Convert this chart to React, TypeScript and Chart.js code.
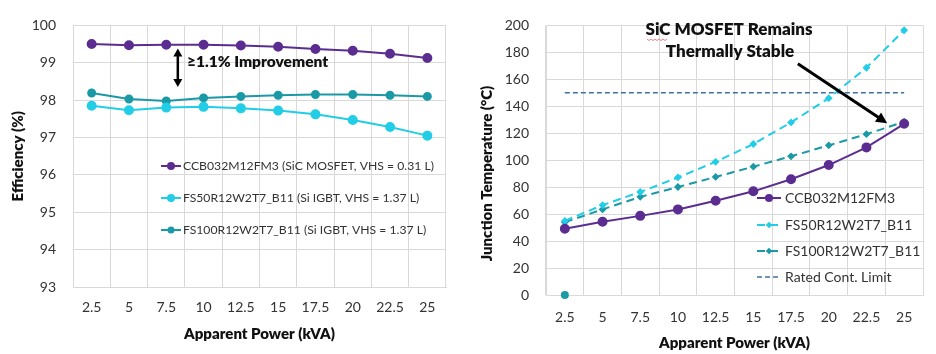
import React, { useEffect, useRef } from 'react';
import { Chart, registerables } from 'chart.js';
Chart.register(...registerables);

// ---------- data ----------
const categories = ['2.5', '5', '7.5', '10', '12.5', '15', '17.5', '20', '22.5', '25'];

const effSiC = [99.5, 99.47, 99.48, 99.48, 99.46, 99.43, 99.37, 99.32, 99.24, 99.13];
const effFS50 = [97.85, 97.73, 97.8, 97.82, 97.78, 97.72, 97.62, 97.47, 97.28, 97.05];
const effFS100 = [98.19, 98.03, 97.98, 98.06, 98.1, 98.13, 98.15, 98.15, 98.13, 98.1];

const tempSiC = [49.2, 54.3, 58.7, 63.5, 69.9, 76.9, 85.9, 96.4, 109.5, 127];
const tempFS50 = [55, 66.7, 76.4, 87.2, 98.8, 112, 128, 146, 168.6, 196.4];
const tempFS100 = [54, 63.5, 72.8, 80.1, 87.6, 95.2, 102.9, 111, 119.3, 128.5];
const ratedLimit = [150, 150, 150, 150, 150, 150, 150, 150, 150, 150];
const strayPoint = [0, null, null, null, null, null, null, null, null, null];

const effLabels = [
  'CCB032M12FM3 (SiC MOSFET, VHS = 0.31 L)',
  'FS50R12W2T7_B11 (Si IGBT, VHS = 1.37 L)',
  'FS100R12W2T7_B11 (Si IGBT, VHS = 1.37 L)',
];
const tempLabels = ['CCB032M12FM3', 'FS50R12W2T7_B11', 'FS100R12W2T7_B11', 'Rated Cont. Limit'];

const effTicks = { min: 93, max: 100, step: 1 };
const tempTicks = { min: 0, max: 200, step: 20 };

// ---------- style ----------
const FONT = 'Lato, "Noto Sans", sans-serif';
const TEXT = '#333333';
const GRID = '#d9d9d9';
const PURPLE = '#5c2d91';
const CYAN = '#22cde8';
const TEAL = '#1a9aa6';
const LIMIT = '#41709e';

function drawMarker(ctx: CanvasRenderingContext2D, style: string, x: number, y: number, r: number, color: string) {
  ctx.save();
  ctx.fillStyle = color;
  ctx.beginPath();
  if (style === 'rectRot') {
    ctx.moveTo(x, y - r * 1.3);
    ctx.lineTo(x + r * 1.3, y);
    ctx.lineTo(x, y + r * 1.3);
    ctx.lineTo(x - r * 1.3, y);
    ctx.closePath();
  } else {
    ctx.arc(x, y, r, 0, Math.PI * 2);
  }
  ctx.fill();
  ctx.restore();
}

function drawLegend(chart: any, items: { ds: number; y: number }[], x: number, lineLen: number, gap: number, font: string) {
  const ctx = chart.ctx as CanvasRenderingContext2D;
  ctx.save();
  ctx.font = font;
  ctx.textBaseline = 'middle';
  ctx.textAlign = 'left';
  items.forEach((it) => {
    const ds: any = chart.data.datasets[it.ds];
    ctx.strokeStyle = ds.borderColor;
    ctx.lineWidth = ds.borderWidth;
    ctx.setLineDash(ds.borderDash || []);
    ctx.beginPath();
    ctx.moveTo(x, it.y);
    ctx.lineTo(x + lineLen, it.y);
    ctx.stroke();
    ctx.setLineDash([]);
    if (ds.pointRadius > 0) drawMarker(ctx, ds.pointStyle, x + lineLen / 2, it.y, ds.pointRadius, ds.pointBackgroundColor);
    ctx.fillStyle = TEXT;
    ctx.fillText(ds.label, x + lineLen + gap, it.y + 0.5);
  });
  ctx.restore();
}

function arrowHead(ctx: CanvasRenderingContext2D, x1: number, y1: number, x2: number, y2: number, len: number, w: number) {
  const a = Math.atan2(y2 - y1, x2 - x1);
  ctx.beginPath();
  ctx.moveTo(x2, y2);
  ctx.lineTo(x2 - len * Math.cos(a) + (w / 2) * Math.sin(a), y2 - len * Math.sin(a) - (w / 2) * Math.cos(a));
  ctx.lineTo(x2 - len * Math.cos(a) - (w / 2) * Math.sin(a), y2 - len * Math.sin(a) + (w / 2) * Math.cos(a));
  ctx.closePath();
  ctx.fill();
}

function baseScales(yMin: number, yMax: number, step: number, yWidth: number, xHeight: number, xTitlePad: number, xTickPad: number, yTitle: string | null) {
  return {
    x: {
      type: 'category' as const,
      offset: true,
      grid: { offset: true, color: GRID, drawTicks: false, lineWidth: 1 },
      border: { color: GRID },
      ticks: { color: TEXT, font: { family: FONT, size: 14 }, padding: xTickPad, maxRotation: 0 },
      title: {
        display: true,
        text: 'Apparent Power (kVA)',
        color: '#111',
        font: { family: FONT, size: 15, weight: 800 as any },
        padding: { top: 0, bottom: xTitlePad },
      },
      afterFit: (s: any) => {
        s.height = xHeight;
      },
    },
    y: {
      min: yMin,
      max: yMax,
      grid: { color: GRID, drawTicks: false, lineWidth: 1 },
      border: { color: GRID },
      ticks: { stepSize: step, color: TEXT, font: { family: FONT, size: 14 }, padding: 17 },
      title: {
        display: !!yTitle,
        text: yTitle || '',
        color: '#111',
        font: { family: FONT, size: 15, weight: 800 as any },
        padding: { top: 9, bottom: 0 },
      },
      afterFit: (s: any) => {
        s.width = yWidth;
      },
    },
  };
}

function EfficiencyChart() {
  const ref = useRef<HTMLCanvasElement>(null);
  useEffect(() => {
    const overlay = {
      id: 'effOverlay',
      afterDraw(chart: any) {
        const ctx = chart.ctx as CanvasRenderingContext2D;
        const xs = chart.scales.x;
        const ys = chart.scales.y;
        drawLegend(chart, [{ ds: 0, y: 166 }, { ds: 1, y: 198 }, { ds: 2, y: 230 }], 161, 20, 2, `12.2px ${FONT}`);
        // double arrow
        const ax = xs.getPixelForValue(2.31);
        const yTop = ys.getPixelForValue(99.38);
        const yBot = ys.getPixelForValue(98.35);
        ctx.save();
        ctx.strokeStyle = '#000';
        ctx.fillStyle = '#000';
        ctx.lineWidth = 2.5;
        ctx.beginPath();
        ctx.moveTo(ax, yTop + 6);
        ctx.lineTo(ax, yBot - 6);
        ctx.stroke();
        arrowHead(ctx, ax, yBot, ax, yTop, 8, 9);
        arrowHead(ctx, ax, yTop, ax, yBot, 8, 9);
        ctx.font = `800 15.5px ${FONT}`;
        ctx.textBaseline = 'middle';
        ctx.textAlign = 'left';
        ctx.fillStyle = '#111';
        ctx.fillText('≥1.1% Improvement', 187, 62);
        ctx.restore();
      },
    };
    const chart = new Chart(ref.current!, {
      type: 'line',
      data: {
        labels: categories,
        datasets: [
          { label: effLabels[0], data: effSiC, borderColor: PURPLE, backgroundColor: PURPLE, pointBackgroundColor: PURPLE, pointBorderColor: PURPLE, borderWidth: 2, pointRadius: 4, pointStyle: 'circle' },
          { label: effLabels[1], data: effFS50, borderColor: CYAN, backgroundColor: CYAN, pointBackgroundColor: CYAN, pointBorderColor: CYAN, borderWidth: 2, pointRadius: 4, pointStyle: 'circle' },
          { label: effLabels[2], data: effFS100, borderColor: TEAL, backgroundColor: TEAL, pointBackgroundColor: TEAL, pointBorderColor: TEAL, borderWidth: 2, pointRadius: 3.5, pointStyle: 'circle' },
        ],
      },
      options: {
        responsive: false,
        animation: false,
        layout: { padding: { top: 18, right: 22, bottom: 0, left: 0 } },
        plugins: { legend: { display: false }, tooltip: { enabled: false } },
        scales: baseScales(effTicks.min, effTicks.max, effTicks.step, 73, 67, 11, 12, 'Efficiency (%)') as any,
      },
      plugins: [overlay],
    });
    return () => chart.destroy();
  }, []);
  return <canvas ref={ref} width={468} height={354} style={{ display: 'block' }} />;
}

function TemperatureChart() {
  const ref = useRef<HTMLCanvasElement>(null);
  useEffect(() => {
    const overlay = {
      id: 'tempOverlay',
      afterDraw(chart: any) {
        const ctx = chart.ctx as CanvasRenderingContext2D;
        const xs = chart.scales.x;
        const ys = chart.scales.y;
        drawLegend(chart, [{ ds: 0, y: 198 }, { ds: 1, y: 225 }, { ds: 2, y: 251 }, { ds: 3, y: 277 }], 289, 24, 4, `14px ${FONT}`);
        ctx.save();
        // y title
        ctx.translate(19, 173.5);
        ctx.rotate(-Math.PI / 2);
        ctx.font = `800 15px ${FONT}`;
        ctx.textAlign = 'center';
        ctx.textBaseline = 'middle';
        ctx.fillStyle = '#111';
        ctx.fillText('Junction Temperature (°C)', 0, 0);
        ctx.restore();

        ctx.save();
        ctx.font = `800 17px ${FONT}`;
        ctx.textAlign = 'center';
        ctx.textBaseline = 'middle';
        ctx.fillStyle = '#111';
        ctx.fillText('SiC MOSFET Remains', 261, 30);
        ctx.fillText('Thermally Stable', 262, 52);
        // spell-check squiggle under "SiC"
        ctx.strokeStyle = '#e8837f';
        ctx.lineWidth = 1;
        ctx.beginPath();
        for (let i = 0; i <= 10; i++) {
          const px = 179 + i * 2;
          const py = 39 + (i % 2 === 0 ? 0 : 1.5);
          if (i === 0) ctx.moveTo(px, py);
          else ctx.lineTo(px, py);
        }
        ctx.stroke();
        // arrow
        const x1 = xs.getPixelForValue(6.18);
        const y1 = ys.getPixelForValue(171.5);
        const x2 = xs.getPixelForValue(8.55);
        const y2 = ys.getPixelForValue(127.5);
        const a = Math.atan2(y2 - y1, x2 - x1);
        ctx.strokeStyle = '#000';
        ctx.fillStyle = '#000';
        ctx.lineWidth = 3;
        ctx.beginPath();
        ctx.moveTo(x1, y1);
        ctx.lineTo(x2 - 8 * Math.cos(a), y2 - 8 * Math.sin(a));
        ctx.stroke();
        arrowHead(ctx, x1, y1, x2, y2, 11, 11);
        ctx.restore();
      },
    };
    const chart = new Chart(ref.current!, {
      type: 'line',
      data: {
        labels: categories,
        datasets: [
          { label: tempLabels[0], data: tempSiC, borderColor: PURPLE, backgroundColor: PURPLE, pointBackgroundColor: PURPLE, pointBorderColor: PURPLE, borderWidth: 2, pointRadius: 4, pointStyle: 'circle' },
          { label: tempLabels[1], data: tempFS50, borderColor: CYAN, backgroundColor: CYAN, pointBackgroundColor: CYAN, pointBorderColor: CYAN, borderWidth: 2, borderDash: [8, 5], pointRadius: 2.5, pointStyle: 'rectRot' },
          { label: tempLabels[2], data: tempFS100, borderColor: TEAL, backgroundColor: TEAL, pointBackgroundColor: TEAL, pointBorderColor: TEAL, borderWidth: 2, borderDash: [8, 5], pointRadius: 2.5, pointStyle: 'rectRot' },
          { label: tempLabels[3], data: ratedLimit, borderColor: LIMIT, backgroundColor: LIMIT, pointBackgroundColor: LIMIT, borderWidth: 1.5, borderDash: [5, 3], pointRadius: 0, pointStyle: 'circle' },
          { label: '', data: strayPoint, borderColor: TEAL, backgroundColor: TEAL, pointBackgroundColor: TEAL, pointBorderColor: TEAL, borderWidth: 0, showLine: false, pointRadius: 4, pointStyle: 'circle', clip: false } as any,
        ],
      },
      options: {
        responsive: false,
        animation: false,
        layout: { padding: { top: 21, right: 13, bottom: 0, left: 0 } },
        plugins: { legend: { display: false }, tooltip: { enabled: false } },
        scales: baseScales(tempTicks.min, tempTicks.max, tempTicks.step, 78, 59, 2, 14, null) as any,
      },
      plugins: [overlay],
    });
    return () => chart.destroy();
  }, []);
  return <canvas ref={ref} width={468} height={354} style={{ display: 'block' }} />;
}

export default function App() {
  return (
    <div style={{ position: 'fixed', left: 0, top: 0, width: 936, height: 354, background: '#fff', display: 'flex' }}>
      <EfficiencyChart />
      <TemperatureChart />
    </div>
  );
}
